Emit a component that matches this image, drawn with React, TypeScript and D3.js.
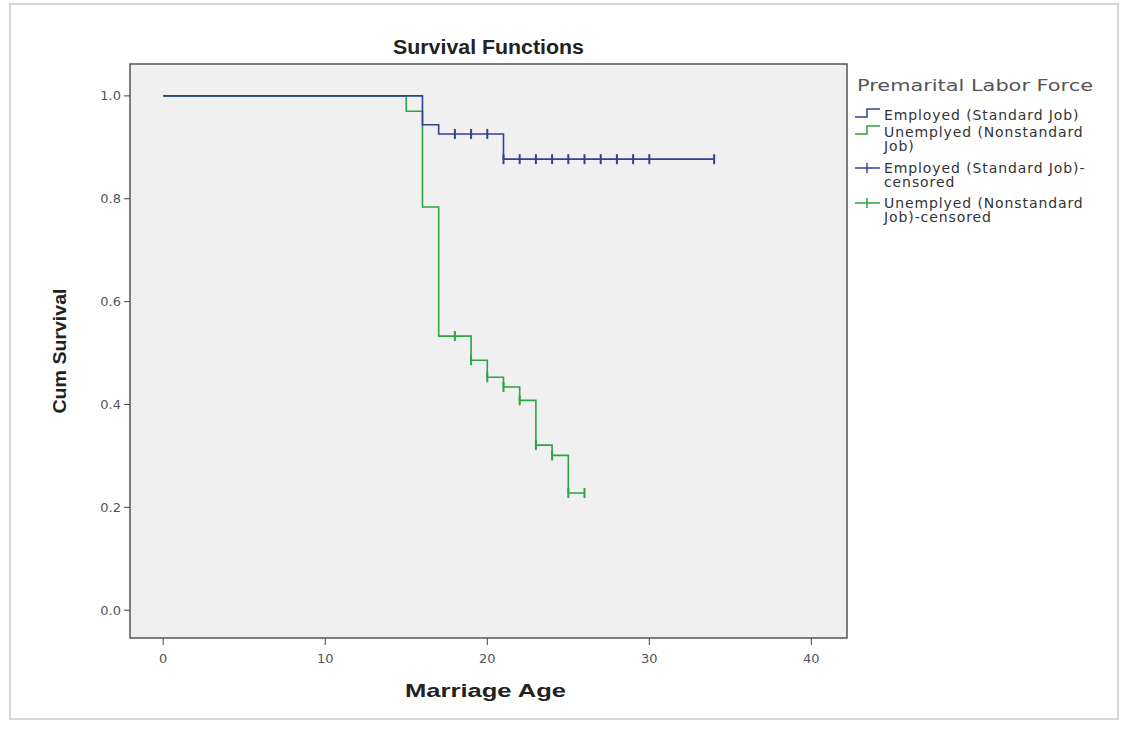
import React from 'react';
import * as d3 from 'd3';

// Kaplan-Meier steps: [age, cumulative survival]
const employedSteps: [number, number][] = [[0, 1], [16, 0.944], [17, 0.926], [21, 0.877], [34, 0.877]];
const employedCensored = [18, 19, 20, 21, 22, 23, 24, 25, 26, 27, 28, 29, 30, 34];
const unemployedSteps: [number, number][] = [
  [0, 1], [15, 0.97], [16, 0.784], [17, 0.533], [19, 0.486], [20, 0.453],
  [21, 0.434], [22, 0.408], [23, 0.321], [24, 0.301], [25, 0.228], [26, 0.228],
];
const unemployedCensored = [18, 19, 20, 21, 22, 23, 24, 25, 26];

const xTicks = [0, 10, 20, 30, 40];
const yTicks = [0, 0.2, 0.4, 0.6, 0.8, 1.0];

const legendTitle = 'Premarital Labor Force';
const legendItems = [
  { lines: ['Employed (Standard Job)'], kind: 'step', group: 'emp' },
  { lines: ['Unemplyed (Nonstandard', 'Job)'], kind: 'step', group: 'unemp' },
  { lines: ['Employed (Standard Job)-', 'censored'], kind: 'cens', group: 'emp' },
  { lines: ['Unemplyed (Nonstandard', 'Job)-censored'], kind: 'cens', group: 'unemp' },
];

const colors: Record<string, string> = { emp: '#2f4290', unemp: '#2aa444' };

const survAt = (steps: [number, number][], t: number) => {
  let v = steps[0][1];
  for (const [a, s] of steps) if (a <= t) v = s;
  return v;
};

export default function App() {
  const width = 1126;
  const height = 730;
  const x = d3.scaleLinear().domain([-2.05, 42.2]).range([130, 847]);
  const y = d3.scaleLinear().domain([-0.054, 1.062]).range([638, 64]);
  const [x0, x1] = x.range();
  const [y0, y1] = y.range();

  const line = d3
    .line<[number, number]>()
    .x((d) => x(d[0]))
    .y((d) => y(d[1]))
    .curve(d3.curveStepAfter);

  const series = [
    { key: 'unemp', steps: unemployedSteps, cens: unemployedCensored },
    { key: 'emp', steps: employedSteps, cens: employedCensored },
  ];

  const font = '"Liberation Sans", Arial, sans-serif';
  const wide = '"DejaVu Sans", Verdana, sans-serif';
  const legX = 855;

  return (
    <svg
      width={width}
      height={height}
      style={{ position: 'absolute', left: 0, top: 0, background: '#fff' }}
      fontFamily={font}
    >
      <rect x={10} y={4} width={1108} height={715} fill="none" stroke="#d6d6d6" strokeWidth={2} />

      <text
        x={(x0 + x1) / 2}
        y={54}
        textAnchor="middle"
        fontWeight="bold"
        fontSize={20}
        fill="#222"
        textLength={191}
        lengthAdjust="spacingAndGlyphs"
      >
        Survival Functions
      </text>

      <rect x={x0} y={y1} width={x1 - x0} height={y0 - y1} fill="#f0f0f0" stroke="#555" strokeWidth={1.5} />

      {/* y axis */}
      <g>
        {yTicks.map((t) => (
          <g key={`y-${t}`}>
            <line x1={x0 - 6} x2={x0} y1={y(t)} y2={y(t)} stroke="#444" />
            <text x={x0 - 9} y={y(t)} dy="0.35em" textAnchor="end" fontSize={13} fontFamily={wide} fill="#555">
              {d3.format('.1f')(t)}
            </text>
          </g>
        ))}
        <text
          transform={`translate(66,${(y0 + y1) / 2}) rotate(-90)`}
          textAnchor="middle"
          fontWeight="bold"
          fontSize={18}
          fill="#222"
          textLength={125}
          lengthAdjust="spacingAndGlyphs"
        >
          Cum Survival
        </text>
      </g>

      {/* x axis */}
      <g>
        {xTicks.map((t) => (
          <g key={`x-${t}`}>
            <line x1={x(t)} x2={x(t)} y1={y0} y2={y0 + 7} stroke="#444" />
            <text x={x(t)} y={y0 + 25} textAnchor="middle" fontSize={13} fontFamily={wide} fill="#555">
              {t}
            </text>
          </g>
        ))}
        <text
          x={(x0 + x1) / 2 - 3}
          y={697}
          textAnchor="middle"
          fontWeight="bold"
          fontSize={19}
          fill="#222"
          textLength={161}
          lengthAdjust="spacingAndGlyphs"
        >
          Marriage Age
        </text>
      </g>

      {/* curves */}
      {series.map((s) => (
        <g key={s.key}>
          <path d={line(s.steps) ?? ''} fill="none" stroke={colors[s.key]} strokeWidth={1.6} />
          {s.cens.map((t) => (
            <line
              key={`${s.key}-c-${t}`}
              x1={x(t)}
              x2={x(t)}
              y1={y(survAt(s.steps, t)) - 5}
              y2={y(survAt(s.steps, t)) + 5}
              stroke={colors[s.key]}
              strokeWidth={2}
            />
          ))}
        </g>
      ))}

      {/* legend */}
      <g>
        <text
          x={legX + 2}
          y={91}
          fontSize={16}
          fontFamily={wide}
          fill="#555"
          textLength={236}
          lengthAdjust="spacingAndGlyphs"
        >
          {legendTitle}
        </text>
        {legendItems.map((d, i) => {
          const top = [115, 132, 168, 203][i];
          const c = colors[d.group];
          return (
            <g key={`leg-${i}`}>
              {d.kind === 'step' ? (
                <path
                  d={`M${legX},${top + 2}H${legX + 12}V${top - 6}H${legX + 25}`}
                  fill="none"
                  stroke={c}
                  strokeWidth={1.5}
                />
              ) : (
                <g>
                  <line x1={legX} x2={legX + 25} y1={top} y2={top} stroke={c} strokeWidth={1.5} />
                  <line x1={legX + 12} x2={legX + 12} y1={top - 5} y2={top + 5} stroke={c} strokeWidth={1.5} />
                </g>
              )}
              {d.lines.map((l, j) => (
                <text
                  key={j}
                  x={legX + 29}
                  y={top + j * 14.5}
                  dy="0.35em"
                  fontSize={14}
                  letterSpacing={0.9}
                  fontFamily={wide}
                  fill="#333"
                >
                  {l}
                </text>
              ))}
            </g>
          );
        })}
      </g>
    </svg>
  );
}
